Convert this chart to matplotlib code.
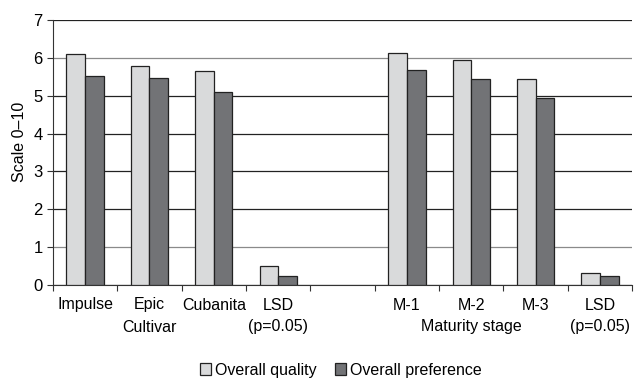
import numpy as np
import matplotlib
matplotlib.use("Agg")
import matplotlib.pyplot as plt
from matplotlib.transforms import blended_transform_factory

plt.rcParams['font.family'] = ['Liberation Sans', 'DejaVu Sans']

# data
categories = ["Impulse", "Epic", "Cubanita", "LSD", "", "M-1", "M-2", "M-3", "LSD"]
sub_labels = ["", "Cultivar", "", "(p=0.05)", "", "", "Maturity stage", "", "(p=0.05)"]
quality = [6.10, 5.78, 5.66, 0.50, np.nan, 6.13, 5.95, 5.44, 0.32]
preference = [5.53, 5.47, 5.09, 0.25, np.nan, 5.68, 5.45, 4.95, 0.25]
series_names = ["Overall quality", "Overall preference"]

fig = plt.figure(figsize=(6.43, 3.80), dpi=100)
ax = fig.add_axes([0.0824, 0.25, 0.9006, 0.697])

x = np.arange(len(categories))
w = 0.29
ax.bar(x - w/2, quality, w, color='#d9dadb', edgecolor='#222222', linewidth=0.9,
       label=series_names[0], zorder=3)
ax.bar(x + w/2, preference, w, color='#727376', edgecolor='#222222', linewidth=0.9,
       label=series_names[1], zorder=3)

ax.set_ylim(0, 7)
ax.set_xlim(-0.5, len(categories) - 0.5)
ax.set_yticks(range(0, 8))
ax.yaxis.grid(True, color='#222222', linewidth=0.9, zorder=0)
for i, gl in enumerate(ax.get_ygridlines()):
    if i in (1, 6):
        gl.set_color('#8a8a8a')
ax.set_axisbelow(True)

# boundary ticks (major) and centred labels (minor)
ax.set_xticks(np.arange(-0.5, len(categories), 1.0))
ax.set_xticklabels([])
ax.set_xticks(x, minor=True)
ax.set_xticklabels(categories, minor=True, fontsize=11.5)
ax.tick_params(axis='x', which='major', direction='out', length=4, color='#333333')
ax.tick_params(axis='x', which='minor', length=0, pad=9)
ax.tick_params(axis='y', direction='out', length=4, labelsize=12, color='#333333')

# second line of the category labels
trans = blended_transform_factory(ax.transData, fig.transFigure)
for xi, s in zip(x, sub_labels):
    if s:
        ax.text(xi, 1 - 327 / 380, s, transform=trans, ha='center', va='center',
                fontsize=11.5)

for s in ('top', 'right'):
    ax.spines[s].set_visible(False)
ax.spines['left'].set_color('#333333')
ax.spines['bottom'].set_color('#333333')

ax.set_ylabel("Scale 0–10", fontsize=11.5)
ax.yaxis.set_label_coords(-0.045, 0.54)

fig.legend(loc='center', bbox_to_anchor=(0.53, 1 - 370 / 380), ncol=2, frameon=False,
           fontsize=11.5, handlelength=0.7, handleheight=0.7, handletextpad=0.2,
           columnspacing=1.2)

fig.savefig("out.png", dpi=100)
